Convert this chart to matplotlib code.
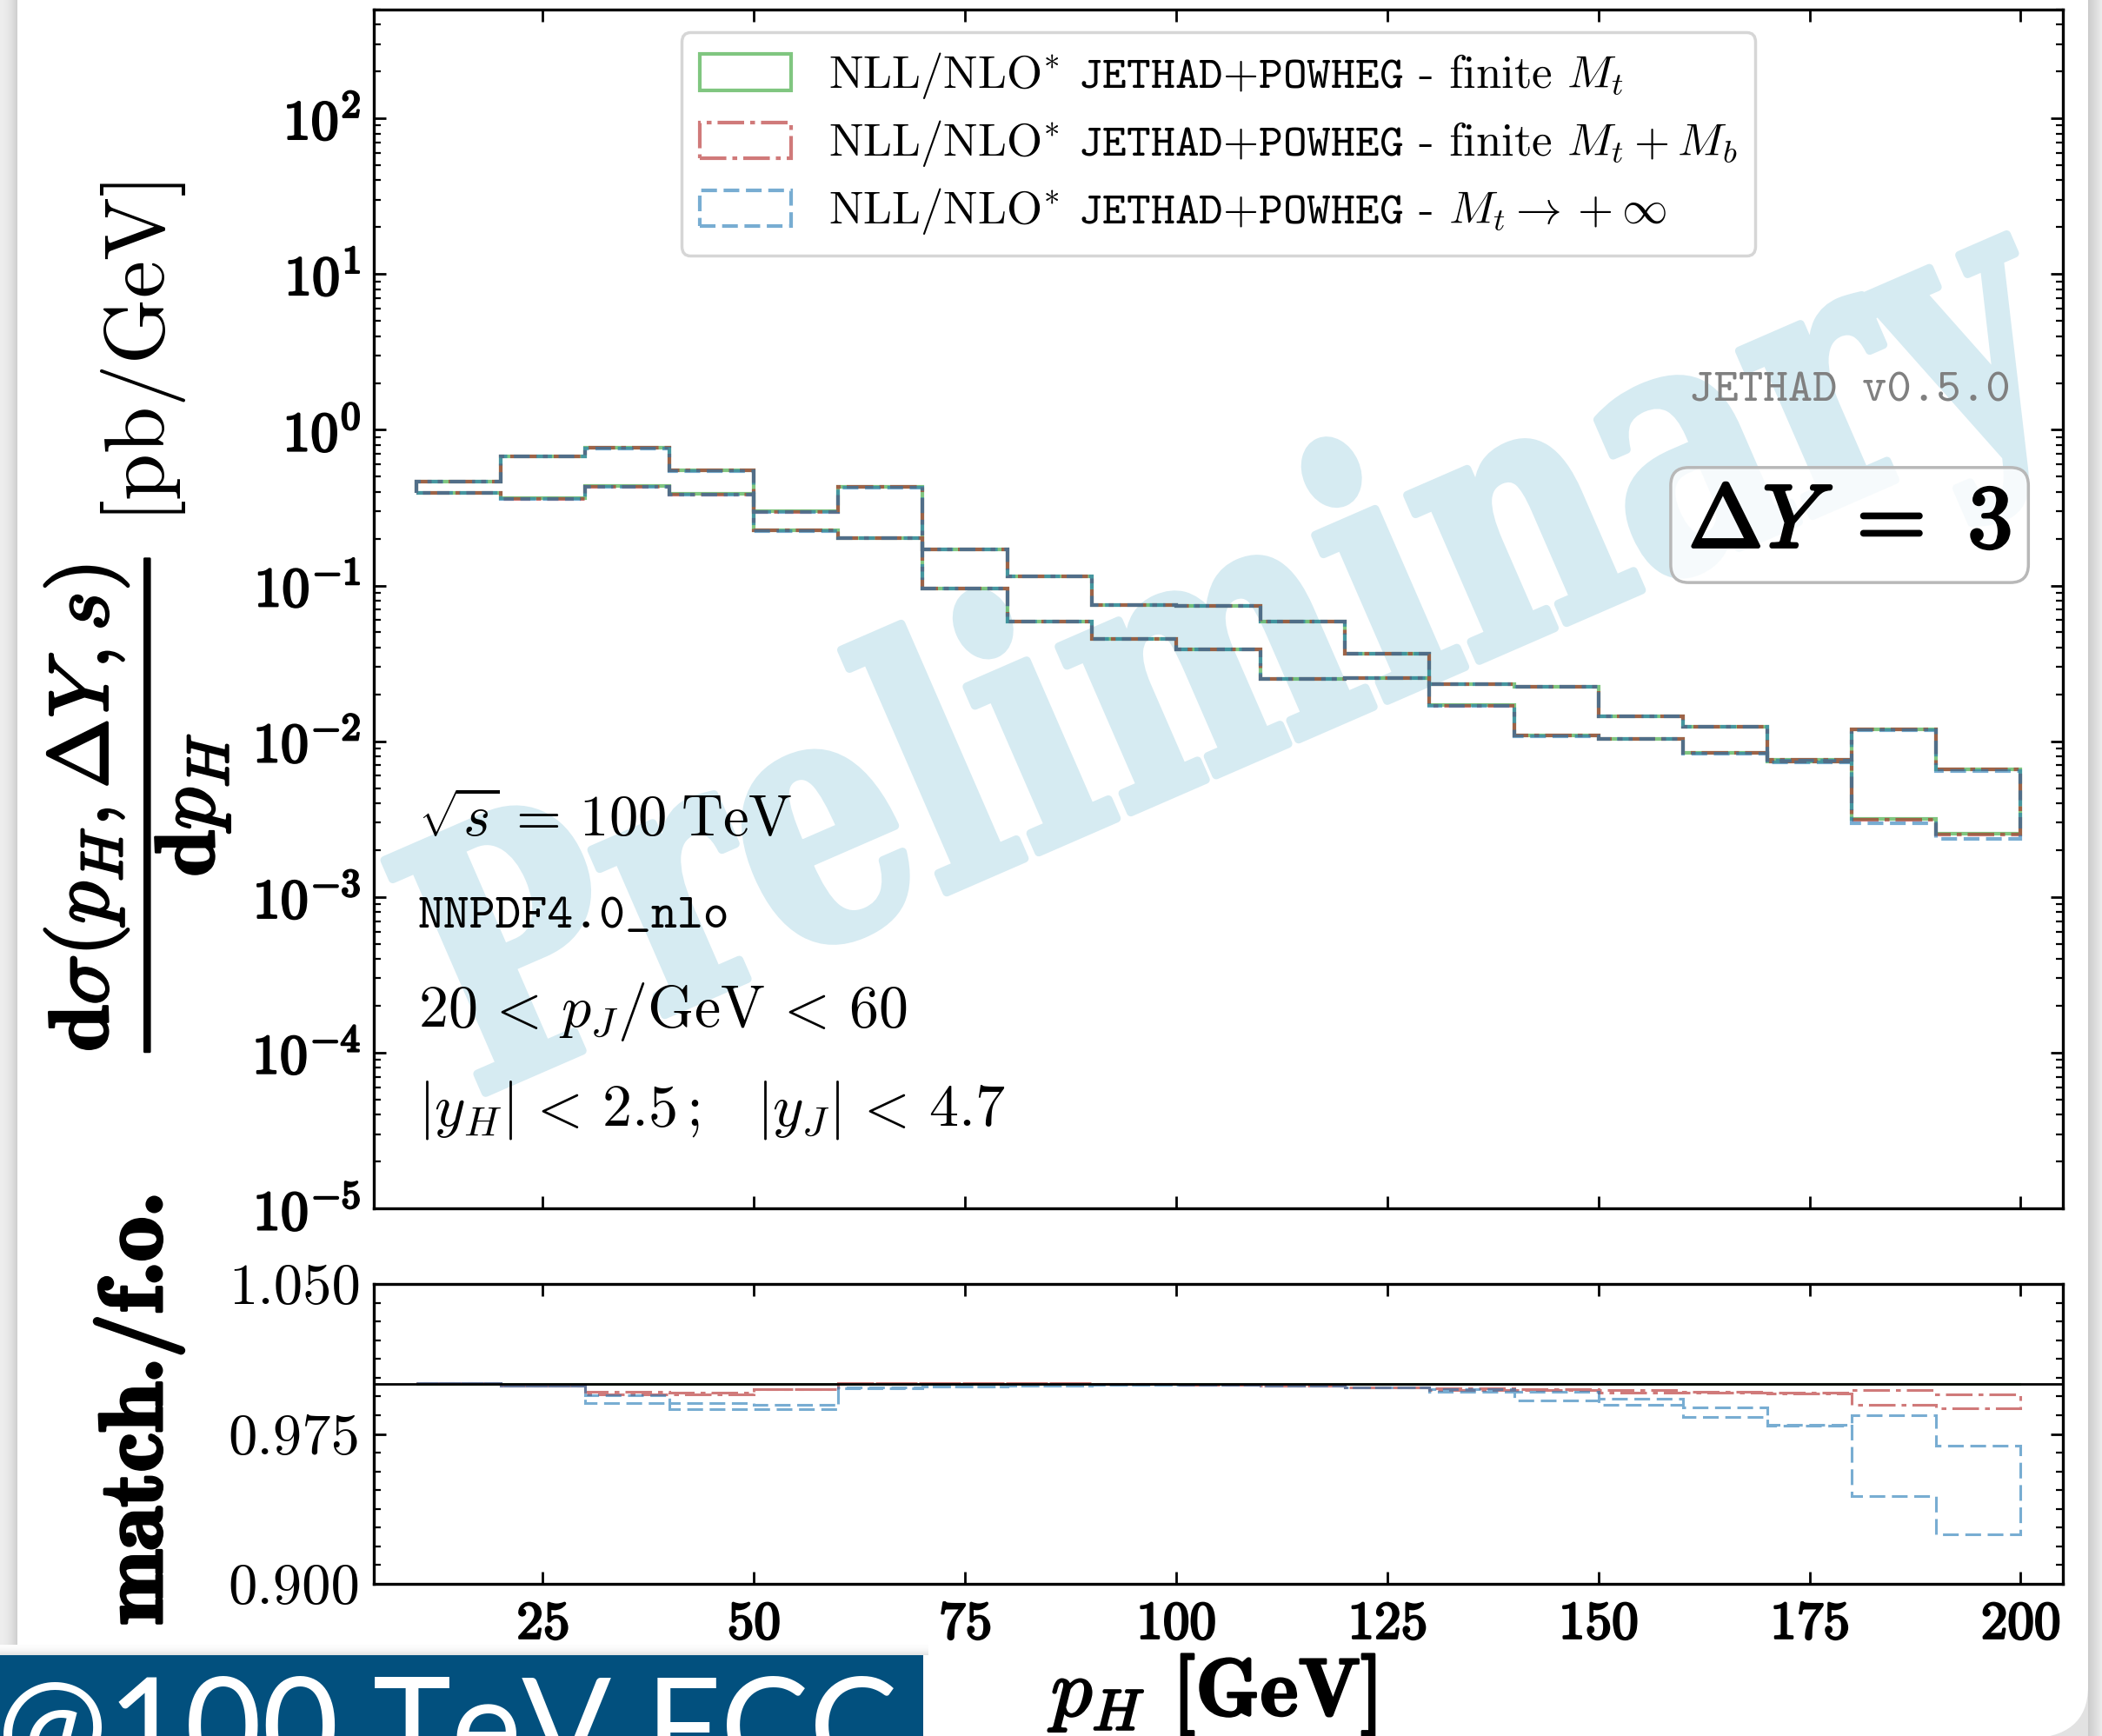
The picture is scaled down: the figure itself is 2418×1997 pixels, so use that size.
import numpy as np
import matplotlib
matplotlib.use("Agg")
import matplotlib.pyplot as plt
from matplotlib import ticker
from matplotlib import patheffects as pe
from matplotlib.patches import Rectangle, FancyBboxPatch, Patch, PathPatch
from matplotlib.textpath import TextPath
from matplotlib.font_manager import FontProperties
from matplotlib.transforms import Affine2D

plt.rcParams.update({
    "font.family": "cmr10",
    "mathtext.fontset": "cm",
    "axes.formatter.use_mathtext": True,
    "lines.scale_dashes": False,
})

# ---------------- data ----------------
pt_edges = [10, 20, 30, 40, 50, 60, 70, 80, 90, 100, 110, 120, 130, 140, 150, 160, 170, 180, 190, 200]

# finite M_t band, upper / lower edge  [pb/GeV]
finite_mt_hi = [0.467, 0.678, 0.767, 0.551, 0.299, 0.428, 0.1713, 0.114, 0.0746, 0.0736,
                0.0584, 0.0365, 0.0234, 0.0225, 0.01453, 0.01246, 0.00764, 0.01193, 0.00660]
finite_mt_lo = [0.392, 0.362, 0.435, 0.386, 0.227, 0.2015, 0.0956, 0.0590, 0.0456, 0.0389,
                0.0250, 0.0256, 0.0170, 0.0109, 0.0104, 0.00843, 0.00745, 0.00317, 0.00255]

# ratios to the finite M_t band
ratio_mtmb_hi = [1.0005, 0.9990, 0.9961, 0.9955, 0.9975, 1.0003, 1.0004, 1.0004, 1.0000, 0.9997,
                 0.9990, 0.9984, 0.9980, 0.9975, 0.9968, 0.9961, 0.9955, 0.9971, 0.9949]
ratio_mtmb_lo = [1.0005, 0.9990, 0.9946, 0.9950, 0.9972, 1.0003, 1.0004, 1.0003, 1.0000, 0.9997,
                 0.9990, 0.9984, 0.9968, 0.9970, 0.9957, 0.9958, 0.9953, 0.9894, 0.9877]
ratio_inf_hi = [1.0004, 0.9990, 0.9942, 0.9903, 0.9894, 0.9983, 0.9988, 0.9993, 0.9997, 0.9996,
                0.9990, 0.9984, 0.9975, 0.9961, 0.9925, 0.9884, 0.9797, 0.9844, 0.9692]
ratio_inf_lo = [1.0004, 0.9990, 0.9906, 0.9874, 0.9874, 0.9980, 0.9985, 0.9993, 0.9997, 0.9996,
                0.9990, 0.9984, 0.9961, 0.9918, 0.9896, 0.9836, 0.9790, 0.9440, 0.9250]

labels = [
    r"NLL/NLO$^{*}$ $\mathtt{JETHAD{+}POWHEG}$ - finite $M_t$",
    r"NLL/NLO$^{*}$ $\mathtt{JETHAD{+}POWHEG}$ - finite $M_t + M_b$",
    r"NLL/NLO$^{*}$ $\mathtt{JETHAD{+}POWHEG}$ - $M_t \rightarrow +\infty$",
]
colors = ["#2ca02c", "#b22222", "#1f77b4"]
styles = ["-", (0, (22, 5, 4, 5)), (0, (13, 5.5))]

x_ticks = [25, 50, 75, 100, 125, 150, 175, 200]
ratio_ticks = [0.900, 0.975, 1.050]

edges = np.array(pt_edges, dtype=float)
fin_hi = np.array(finite_mt_hi)
fin_lo = np.array(finite_mt_lo)
bands = [
    (fin_hi, fin_lo, np.ones_like(fin_hi), np.ones_like(fin_lo)),
    (fin_hi * np.array(ratio_mtmb_hi), fin_lo * np.array(ratio_mtmb_lo),
     np.array(ratio_mtmb_hi), np.array(ratio_mtmb_lo)),
    (fin_hi * np.array(ratio_inf_hi), fin_lo * np.array(ratio_inf_lo),
     np.array(ratio_inf_hi), np.array(ratio_inf_lo)),
]

bold = [pe.withStroke(linewidth=1.8, foreground="black")]
bold_big = [pe.withStroke(linewidth=2.6, foreground="black")]

# ---------------- figure / slide background ----------------
W, H = 2418, 1997
fig = plt.figure(figsize=(W / 100, H / 100), dpi=100)
fig.patch.set_facecolor("#e2e2e2")


def fx(px):
    return px / W


def fy(py):
    return 1 - py / H


fig.add_artist(FancyBboxPatch((fx(20), fy(2000)), fx(2402) - fx(20), fy(-200) - fy(2000),
                              boxstyle="round,pad=0,rounding_size=0.03",
                              fc="white", ec="none", transform=fig.transFigure, zorder=-10))
# left and right slide shadows
for i in range(20):
    g = 0.93 - 0.12 * (i / 19) ** 2
    fig.add_artist(Rectangle((fx(i), 0), fx(1.05), 1, fc=(g, g, g), ec="none",
                             transform=fig.transFigure, zorder=-9))
for i in range(16):
    g = 0.80 + 0.12 * (i / 15)
    fig.add_artist(Rectangle((fx(2402 + i), 0), fx(1.05), 1, fc=(g, g, g), ec="none",
                             transform=fig.transFigure, zorder=-9))
# banner with soft shadow
for i in range(12):
    g = 0.99 - 0.10 * (i / 11) ** 2
    fig.add_artist(Rectangle((0, fy(1893 + i)), fx(1068), 1.05 / H, fc=(g, g, g),
                             ec="none", transform=fig.transFigure, zorder=-8))
fig.add_artist(Rectangle((0, 0), fx(1062), fy(1904), fc="#02507e", ec="none",
                         transform=fig.transFigure, zorder=-7))
fig.text(fx(-4), fy(2040), "@100 TeV FCC", color="white", fontsize=110,
         family="Lato", ha="left", va="baseline", zorder=-6)

# ---------------- axes ----------------
ax = fig.add_axes([fx(430), fy(1390), fx(2373) - fx(430), fy(11) - fy(1390)])
rax = fig.add_axes([fx(430), fy(1822), fx(2373) - fx(430), fy(1477) - fy(1822)])

handles = []
for (hi, lo, rhi, rlo), c, ls, lab in zip(bands, colors, styles, labels):
    ax.stairs(hi, edges, baseline=lo, fill=False, edgecolor=c, linestyle=ls,
              linewidth=3.0, alpha=0.6)
    rax.stairs(rhi, edges, baseline=rlo, fill=False, edgecolor=c, linestyle=ls,
               linewidth=2.2, alpha=0.6)
    handles.append(Patch(facecolor="none", edgecolor=c, linestyle=ls, linewidth=3.0,
                         alpha=0.6, label=lab))
rax.axhline(1.0, color="black", lw=2.0, zorder=5)

ax.set_yscale("log")
ax.set_ylim(1e-5, 5e2)
ax.set_xlim(5, 205)
rax.set_xlim(5, 205)
rax.set_ylim(0.9, 1.05)

for a in (ax, rax):
    a.set_xticks(x_ticks)
    a.tick_params(which="both", direction="in", top=True, right=True)
    a.tick_params(which="major", length=10, width=2.0)
    a.tick_params(which="minor", length=5.5, width=1.6)
    for s in a.spines.values():
        s.set_linewidth(2.4)

ax.yaxis.set_major_locator(ticker.LogLocator(base=10, numticks=20))
ax.yaxis.set_minor_locator(ticker.LogLocator(base=10, subs=np.arange(2, 10), numticks=20))
ax.yaxis.set_minor_formatter(ticker.NullFormatter())
ax.yaxis.set_major_formatter(ticker.FuncFormatter(
    lambda v, p: r"$\mathbf{10^{%d}}$" % int(round(np.log10(v)))))
ax.tick_params(axis="y", which="major", labelsize=46, pad=11)
ax.tick_params(labelbottom=False)

rax.set_yticks(ratio_ticks)
rax.yaxis.set_major_formatter(ticker.FormatStrFormatter("%.3f"))
rax.yaxis.set_minor_locator(ticker.AutoMinorLocator(8))
rax.tick_params(axis="y", which="major", labelsize=48, pad=11)
rax.xaxis.set_major_formatter(ticker.FuncFormatter(lambda v, p: r"$\mathbf{%d}$" % v))
rax.tick_params(axis="x", which="major", labelsize=44, pad=14)

# axis labels
ax.set_ylabel(r"$\dfrac{\mathbf{d}\sigma(p_H,\Delta Y,s)}{\mathbf{d}p_H}$",
              fontsize=70, va="center", path_effects=bold)
ax.yaxis.set_label_coords(-0.1405, 0.337)
ax.text(-0.1425, 0.726, "[pb/GeV]", transform=ax.transAxes, rotation=90,
        rotation_mode="anchor", ha="center", va="center", fontsize=70)
rax.set_ylabel("match./f.o.", fontsize=74, family="cmb10", va="center",
               path_effects=bold_big)
rax.yaxis.set_label_coords(-0.139, 0.585)
rax.set_xlabel(r"$p_H$ [GeV]", fontsize=68, family="cmb10", va="center",
               path_effects=bold)
rax.xaxis.set_label_coords(0.498, -0.371)

# watermark, drawn as a condensed outline path
wm_path = TextPath((0, 0), "Preliminary", size=1,
                   prop=FontProperties(family="DejaVu Serif", weight="bold"))
bb = wm_path.get_extents()
wm_tr = (Affine2D().translate(-(bb.x0 + bb.x1) / 2, -(bb.y0 + bb.y1) / 2)
         .scale(400 * 0.76, 400).rotate_deg(23.5).translate(1432, H - 760))
wm = PathPatch(wm_path, transform=wm_tr, fc="#d6ebf2", ec="#d6ebf2", lw=7,
               joinstyle="round", zorder=0, clip_on=False)
ax.add_artist(wm)

# annotations
ax.text(0.026, 0.3234, r"$\sqrt{s}\,=\,100\;\mathrm{TeV}$", transform=ax.transAxes,
        fontsize=48, va="center", ha="left")
ax.text(0.026, 0.242, "NNPDF4.0_nlo", transform=ax.transAxes, family="cmtt10",
        fontsize=41, va="center", ha="left")
ax.text(0.026, 0.164, r"$\mathbf{20}\,<\,p_J/\mathrm{GeV}\,<\,60$", transform=ax.transAxes,
        fontsize=49, va="center", ha="left")
ax.text(0.026, 0.082, r"$|y_H|\,<\,\mathbf{2.5}\,;\;\;\;|y_J|\,<\,\mathbf{4.7}$",
        transform=ax.transAxes, fontsize=49, va="center", ha="left")
ax.text(0.969, 0.681, "JETHAD v0.5.0", transform=ax.transAxes, family="cmtt10",
        fontsize=39, color="#808080", va="center", ha="right")
ax.text(0.969, 0.570, r"$\mathbf{\Delta} Y\ =\ \mathbf{3}$", transform=ax.transAxes,
        fontsize=74, va="center", ha="right", zorder=6, path_effects=bold_big,
        bbox=dict(boxstyle="round,pad=0.2", fc=(1, 1, 1, 0.8), ec="#b8b8b8", lw=2.5))

leg = ax.legend(handles=handles, loc="upper center", bbox_to_anchor=(0.5, 0.981),
                borderaxespad=0, fontsize=38, handlelength=2.0, handleheight=0.82,
                handletextpad=0.8, labelspacing=0.38, borderpad=0.4, fancybox=True,
                framealpha=0.8, edgecolor="#cccccc")
leg.get_frame().set_linewidth(2.5)

# bold tick labels
fig.canvas.draw()
for lab in ax.get_yticklabels() + rax.get_xticklabels():
    lab.set_path_effects(bold)

fig.savefig("out.png", dpi=100)
